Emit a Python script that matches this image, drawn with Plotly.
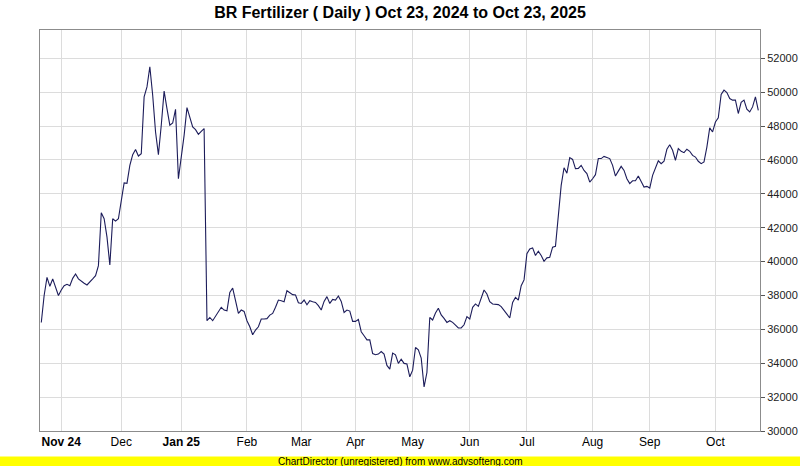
import plotly.graph_objects as go

# Daily closing values (trading-day sequence)
values = [
    36408, 38000, 39070, 38540, 38976, 38480, 38000, 38325, 38580, 38660,
    38580, 39010, 39270, 38980, 38820, 38720, 38620, 38780, 38980, 39170,
    39760, 42880, 42530, 41440, 39800, 42530, 42390, 42530, 43510, 44640,
    44620, 45680, 46310, 46610, 46230, 46370, 49720, 50310, 51500, 49820,
    47650, 46310, 48050, 50060, 49030, 48050, 48180, 48990, 44890,
    46180, 47450, 49090, 48500, 47950, 47790, 47510, 47690, 47850, 36510,
    36700, 36510, 36800, 37040, 37300, 37140, 37100, 38180, 38440, 37690,
    36940, 37140, 37060, 36510, 36150, 35680, 35960, 36150, 36610, 36610,
    36630, 36840, 36940, 37300, 37730, 37690, 37630, 38280, 38180, 38050,
    38030, 37570, 37530, 37730, 37450, 37690, 37630, 37590, 37400, 37140,
    37650, 37930,
    37530, 37770, 37730, 37970, 37650, 37000, 37140, 37080, 36470, 36470,
    36590, 35860, 35620, 35380, 35380, 34570, 34500, 34540, 34690, 34540,
    33870, 33650, 34600, 34500, 33990, 34240, 33990, 33950, 33200, 33590,
    34930, 34790, 34300, 32600, 33450, 36700, 36550, 36960, 37240, 36850,
    36650, 36410, 36510, 36410, 36250, 36080, 36080, 36270, 36750, 36610,
    37300, 37500,
    37360, 37850, 38320, 38090, 37630, 37500, 37460, 37460, 37340, 37140,
    36900, 36670, 37590, 37890, 37730, 38580, 38920, 40460, 40750, 40810,
    40360, 40610, 40360, 40020, 40220, 40260, 40850, 40900, 42820, 44500,
    45540, 45220, 46140, 46030, 45490, 45500, 45680, 45380, 45190, 44690,
    44890, 45130, 46080, 46080, 46210, 46140, 46080, 45680, 45050, 45340,
    45620, 45380,
    44890, 44600, 44770, 44770, 45050, 44730, 44400, 44440, 44340, 45090,
    45580, 45950, 45780, 45920, 46630, 46900, 46570, 45980, 46670, 46510,
    46430, 46630, 46510, 46270, 46170, 45920, 45780, 45880, 46760, 47890,
    47650, 48240, 48480, 49860, 50120, 49980, 49620, 49530, 49530, 48740,
    49400, 49530, 48990, 48830, 49130, 49720, 48930,
]
day_index = list(range(len(values)))

# Month-start positions (trading-day index) and their labels
month_ticks = [7, 28, 49, 72, 91, 110, 130, 150, 170, 193, 213, 236]
month_labels = ["<b>Nov 24</b>", "Dec", "<b>Jan 25</b>", "Feb", "Mar", "Apr",
                "May", "Jun", "Jul", "Aug", "Sep", "Oct"]
y_ticks = list(range(30000, 52001, 2000))

title_text = "BR Fertilizer ( Daily ) Oct 23, 2024 to Oct 23, 2025"
footer_text = "ChartDirector (unregistered) from www.advsofteng.com"

narrow = "Liberation Sans Narrow, Arial Narrow, Liberation Sans, Arial"

fig = go.Figure()
fig.add_trace(go.Scatter(
    x=day_index, y=values, mode="lines",
    line=dict(color="#1c1c5a", width=1.1),
    hoverinfo="y",
))

fig.update_layout(
    width=800, height=466,
    margin=dict(l=40, r=40, t=30, b=35, autoexpand=False),
    paper_bgcolor="white", plot_bgcolor="white",
    showlegend=False,
    title=dict(text="<b>" + title_text + "</b>", x=0.5, xanchor="center",
               y=1 - 12 / 466, yanchor="middle",
               font=dict(family=narrow, size=16, color="black")),
    xaxis=dict(
        range=[-0.45, len(values) - 0.4],
        tickmode="array", tickvals=month_ticks, ticktext=month_labels,
        showgrid=True, gridcolor="#dcdcdc", gridwidth=1,
        showline=True, linecolor="#8c8c8c", linewidth=1, mirror=True,
        ticks="", zeroline=False, automargin=False,
        tickfont=dict(family=narrow, size=12, color="black"),
    ),
    yaxis=dict(
        side="right",
        range=[30000, 53669],
        tickmode="array", tickvals=y_ticks,
        tickformat="d",
        showgrid=True, gridcolor="#dcdcdc", gridwidth=1,
        showline=True, linecolor="#8c8c8c", linewidth=1, mirror=True,
        ticks="outside", ticklen=4, tickcolor="#555555",
        zeroline=False, automargin=False,
        tickfont=dict(family="Liberation Sans, Arial", size=11, color="#222222"),
    ),
    shapes=[dict(type="rect", xref="paper", yref="paper",
                 x0=-40/720, x1=1+40/720, y0=-35/401, y1=-25.5/401,
                 fillcolor="#ffff00", line=dict(width=0), layer="below")],
    annotations=[dict(text=footer_text, xref="paper", yref="paper",
                      x=0.5, y=-30.5/401, xanchor="center", yanchor="middle",
                      showarrow=False,
                      font=dict(family=narrow, size=10, color="black"))],
)

fig.write_html("out.html",
               config={"displayModeBar": False},
               post_script="document.body.style.margin='0';document.body.style.overflow='hidden';")
